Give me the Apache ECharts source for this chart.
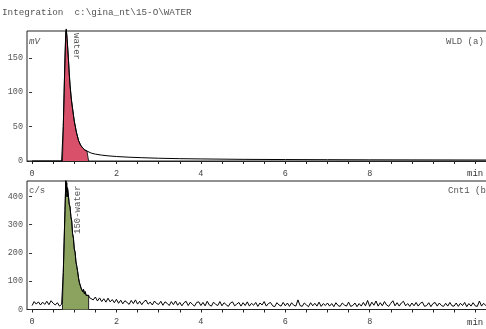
<!DOCTYPE html>
<html><head><meta charset="utf-8">
<script src="https://cdn.jsdelivr.net/npm/echarts@6/dist/echarts.min.js"></script>
<style>html,body{margin:0;padding:0;background:#fff}#c{width:486px;height:329px}</style>
</head><body><div id="c"></div>
<script>
// ---- data ----
const titleText = 'Integration  c:\\gina_nt\\15-O\\WATER';
const xTickLabels = [0, 2, 4, 6, 8];
const xMinorStep = 0.5;
const xTickEnd = 10.5;
const topYTicks = [0, 50, 100, 150];
const botYTicks = [0, 100, 200, 300, 400];
const intStart = 0.72, intEnd = 1.34;

// WLD (a) trace, mV
const topTimes = [0, 0.5, 0.70, 0.72, 0.74, 0.76, 0.78, 0.80, 0.81, 0.83, 0.86, 0.88, 0.90, 0.93, 0.96, 1.00, 1.05, 1.10, 1.15, 1.20, 1.25, 1.30, 1.34, 1.40, 1.50, 1.65, 1.80, 2.0, 2.3, 2.6, 3.0, 3.5, 4.0, 5.0, 6.0, 7.0, 8.0, 9.0, 10.0, 11.0];
const topValues = [0, 0, 0, 2, 50, 100, 150, 188, 192, 178, 150, 128, 110, 90, 76, 58, 42, 30, 23, 19, 16, 14.5, 13.5, 11.5, 10, 8.5, 7.5, 6.5, 5.5, 4.8, 4, 3.4, 3, 2.4, 2.1, 1.9, 1.7, 1.6, 1.5, 1.4];

// Cnt1 (b) trace, c/s
const botPreTimes = [0, 0.05, 0.10, 0.15, 0.20, 0.25, 0.30, 0.35, 0.40, 0.45, 0.50, 0.55, 0.60, 0.65, 0.70];
const botPreValues = [14, 28, 19, 27, 16, 26, 18, 29, 17, 31, 22, 16, 24, 12, 18];
const botPeakTimes = [0.72, 0.74, 0.76, 0.78, 0.80, 0.81, 0.82, 0.83, 0.84, 0.86, 0.88, 0.90, 0.92, 0.94, 0.96, 0.98, 1.00, 1.02, 1.04, 1.06, 1.08, 1.10, 1.12, 1.14, 1.16, 1.18, 1.20, 1.22, 1.24, 1.26, 1.28, 1.30, 1.32, 1.34, 1.36, 1.38];
const botPeakValues = [18, 130, 240, 350, 455, 415, 448, 398, 430, 405, 372, 362, 328, 312, 268, 252, 214, 202, 168, 152, 134, 112, 96, 102, 76, 82, 63, 71, 55, 63, 50, 57, 46, 50, 42, 48];
const botTailStart = 1.40, botTailStep = 0.05;
const botTailValues = [
 48, 34, 44, 30, 41, 28, 38, 26, 40, 27, 35, 24,
 36, 22, 33, 20, 31, 25, 18, 32, 21, 34, 19, 29, 17, 28, 33, 19, 26, 16, 30, 21,
 18, 29, 15, 27, 22, 14, 28, 17, 30, 15, 25, 13, 24, 29, 14, 26, 18, 12, 25, 27,
 14, 25, 13, 29, 16, 12, 26, 18, 14, 28, 13, 24, 17, 11, 23, 27, 13, 19, 25, 12,
 24, 14, 27, 12, 22, 15, 25, 11, 23, 16, 28, 12, 21, 25, 13, 10, 24, 16, 12, 25,
 13, 23, 11, 24, 15, 12, 34, 14, 11, 23, 16, 10, 24, 13, 22, 12, 26, 11, 21, 14,
 23, 12, 21, 10, 24, 14, 11, 23, 16, 12, 26, 11, 14, 23, 10, 21, 12, 25, 13, 32,
 11, 26, 15, 30, 12, 24, 13, 28, 16, 11, 22, 31, 13, 24, 12, 23, 29, 13, 21, 11,
 23, 13, 25, 12, 22, 26, 11, 14, 24, 10, 21, 25, 12, 23, 14, 11, 22, 12, 25, 13,
 12, 23, 11, 22, 14, 25, 10, 21, 12, 24, 13, 11, 30, 12, 22, 14, 24, 12, 21, 14
];

// ---- build ----
const zip = (t, v) => t.map((x, i) => [x, v[i]]);
const topData = zip(topTimes, topValues);
const botData = zip(botPreTimes, botPreValues)
  .concat(zip(botPeakTimes, botPeakValues))
  .concat(botTailValues.map((v, i) => [+(botTailStart + i * botTailStep).toFixed(2), v]));
const fillOf = d => [[intStart, 0]].concat(d.filter(p => p[0] >= intStart && p[0] <= intEnd)).concat([[intEnd, 0]]);
const xTicks = [];
for (let v = 0; v <= xTickEnd + 1e-9; v += xMinorStep) xTicks.push(+v.toFixed(2));

const MONO = '"Liberation Mono", "DejaVu Sans Mono", monospace';
const gridCommon = { left: 27, width: 469.3, show: true, borderColor: '#222', borderWidth: 1, backgroundColor: '#fff', outerBoundsMode: 'none', containLabel: false };

function xAxis(idx) {
  return {
    type: 'value', gridIndex: idx, min: -0.12, max: 11.0, offset: 4,
    axisLine: { show: true, lineStyle: { color: '#222', width: 1 } },
    axisTick: { show: true, customValues: xTicks, length: 3, lineStyle: { color: '#222' } },
    axisLabel: { customValues: xTickLabels, margin: 4, color: '#444', fontFamily: MONO, fontSize: 8.5 },
    splitLine: { show: false }
  };
}
function yAxis(idx, max, ticks) {
  return {
    type: 'value', gridIndex: idx, min: 0, max: max,
    axisLine: { show: false },
    axisTick: { show: true, customValues: ticks, length: 3, lineStyle: { color: '#333' } },
    axisLabel: { customValues: ticks, margin: 4, color: '#555', fontFamily: MONO, fontSize: 8.5 },
    splitLine: { show: false }
  };
}
const txt = (x, y, text, extra, rot) => ({
  type: 'text', x: x, y: y, z: 100, rotation: rot || 0,
  style: Object.assign({ text: text, fill: '#555', font: '9px ' + MONO, textAlign: 'left', textVerticalAlign: 'middle' }, extra || {})
});

const chart = echarts.init(document.getElementById('c'), null, { renderer: 'canvas' });
chart.setOption({
  animation: false,
  backgroundColor: '#fff',
  grid: [Object.assign({ top: 31, height: 130 }, gridCommon), Object.assign({ top: 181, height: 128.5 }, gridCommon)],
  xAxis: [xAxis(0), xAxis(1)],
  yAxis: [yAxis(0, 189, topYTicks), yAxis(1, 454, botYTicks)],
  series: [
    { type: 'line', xAxisIndex: 0, yAxisIndex: 0, data: fillOf(topData), symbol: 'none', z: 2,
      lineStyle: { color: '#222', width: 1 }, areaStyle: { color: '#d9506b', opacity: 1 } },
    { type: 'line', xAxisIndex: 0, yAxisIndex: 0, data: topData, symbol: 'none', z: 3, clip: false,
      lineStyle: { color: '#000', width: 1 } },
    { type: 'line', xAxisIndex: 1, yAxisIndex: 1, data: fillOf(botData), symbol: 'none', z: 2,
      lineStyle: { color: '#222', width: 1 }, areaStyle: { color: '#8ba35f', opacity: 1 } },
    { type: 'line', xAxisIndex: 1, yAxisIndex: 1, data: botData, symbol: 'none', z: 3, clip: false,
      lineStyle: { color: '#000', width: 1 } }
  ],
  graphic: [
    txt(2, 13, titleText, { font: '9.3px ' + MONO, fill: '#555' }),
    txt(29, 42, 'mV', { font: 'italic 9px ' + MONO }),
    txt(29, 191, 'c/s'),
    txt(446, 42, 'WLD (a)'),
    txt(448, 191, 'Cnt1 (b'),
    txt(467, 174, 'min', { fill: '#333' }),
    txt(467, 323, 'min', { fill: '#333' }),
    txt(76, 33, 'water', {}, -Math.PI / 2),
    txt(78, 234, '150-water', {}, Math.PI / 2)
  ]
});
</script></body></html>
